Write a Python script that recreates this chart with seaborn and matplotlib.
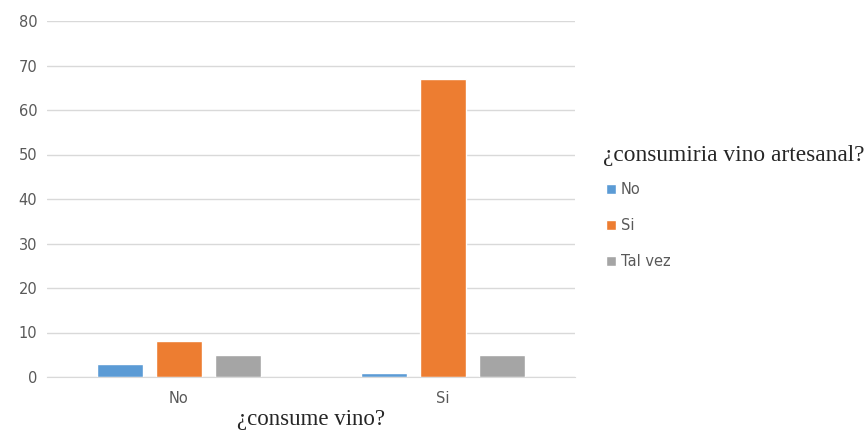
import matplotlib
matplotlib.use("Agg")
import matplotlib.pyplot as plt
import seaborn as sns
import pandas as pd

consume = ["No", "Si"]
respuestas = ["No", "Si", "Tal vez"]
vals_no = [3, 8, 5]
vals_si = [1, 67, 5]
colors = ["#5B9BD5", "#ED7D31", "#A5A5A5"]

rows = []
for c, vals in zip(consume, [vals_no, vals_si]):
    for r, v in zip(respuestas, vals):
        rows.append({"consume": c, "resp": r, "valor": v})
df = pd.DataFrame(rows)

sns.set_style("white")
fig = plt.figure(figsize=(8.66, 4.3), dpi=100)
ax = fig.add_axes([47 / 866, 53 / 430, 528 / 866, 356 / 430])
sns.barplot(data=df, x="consume", y="valor", hue="resp", hue_order=respuestas,
            order=consume, palette=colors, width=0.67, gap=0.22, ax=ax,
            saturation=1, legend=True)
ax.set_xlim(-0.5, 1.5)
ax.set_ylim(0, 80)
ax.set_yticks(range(0, 81, 10))
ax.yaxis.grid(True, color="#D9D9D9", linewidth=1)
ax.set_axisbelow(True)
for s in ["top", "right", "left"]:
    ax.spines[s].set_visible(False)
ax.spines["bottom"].set_color("#D9D9D9")
ax.tick_params(axis="both", length=0, labelsize=10.5, labelcolor="#595959")
ax.tick_params(axis="y", pad=7)
ax.tick_params(axis="x", pad=10)
ax.set_ylabel("")
ax.set_xlabel("¿consume vino?", family="Liberation Serif", fontsize=16.5, labelpad=2)

handles, labels = ax.get_legend_handles_labels()
ax.legend_.remove()
fig.text(603 / 866, 1 - 155 / 430, "¿consumiria vino artesanal?",
         family="Liberation Serif", fontsize=16.8, ha="left", va="center")
leg = fig.legend(handles, ["No", "Si", "Tal vez"],
                 loc="upper left", bbox_to_anchor=(593 / 866, 1 - 169 / 430), frameon=False,
                 handlelength=0.7, handleheight=0.7, handletextpad=0.3,
                 labelspacing=1.45, fontsize=10.5)
for t in leg.get_texts():
    t.set_color("#595959")

fig.savefig("out.png", dpi=100)
